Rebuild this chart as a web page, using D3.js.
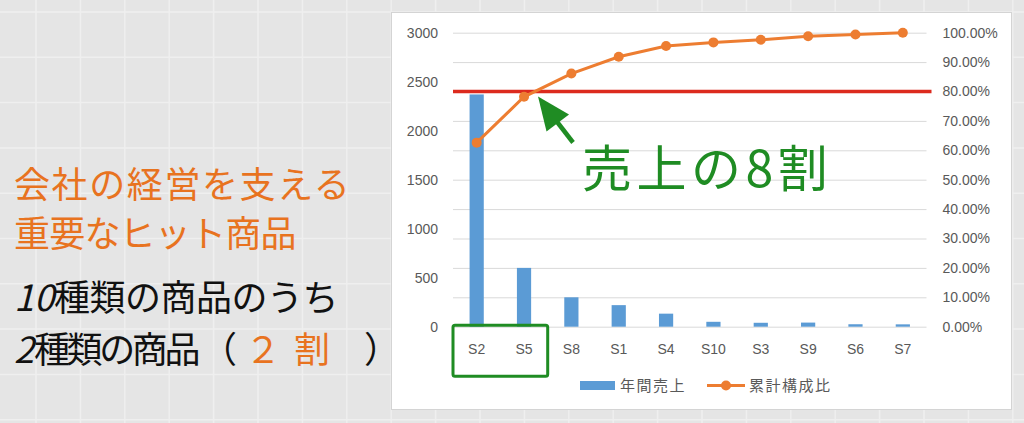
<!DOCTYPE html>
<html>
<head>
<meta charset="utf-8">
<script src="https://cdn.jsdelivr.net/npm/d3@7"></script>
<style>
  html, body { margin: 0; padding: 0; background: #e5e5e5; }
  svg { display: block; }
</style>
</head>
<body>
<div id="chart"></div>
<script>
/* Pareto chart: annual sales + cumulative ratio */

const products = ["S2", "S5", "S8", "S1", "S4", "S10", "S3", "S9", "S6", "S7"];
const sales = [2370, 600, 300, 220, 133, 50, 40, 42, 25, 24];           // 年間売上
const cumulative = [0.626, 0.782, 0.861, 0.918, 0.955, 0.967, 0.976, 0.988, 0.994, 1.0]; // 累計構成比
const leftTicks = [0, 500, 1000, 1500, 2000, 2500, 3000];
const rightTicks = [0, 0.1, 0.2, 0.3, 0.4, 0.5, 0.6, 0.7, 0.8, 0.9, 1.0];
const threshold = 0.8;

const width = 1024,
    height = 423,
    margin = ({ top: 32.7, right: 97.5, bottom: 96.3, left: 453 });

const numFont = "'Liberation Sans', Arial, sans-serif",
    jpFont = "'Noto Sans CJK JP', 'Noto Sans', sans-serif";

const svg = d3.select("#chart")
    .append("svg")
    .attr("width", width)
    .attr("height", height);

// spreadsheet background grid
svg.append("rect").attr("width", width).attr("height", height).attr("fill", "#e5e5e5");
svg.append("g")
    .selectAll("line")
    .data(d3.range(-8, 24).map(k => 36 + 44.4 * k).filter(v => v > 0 && v < width))
    .join("line")
    .attr("x1", d => d).attr("x2", d => d)
    .attr("y1", 0).attr("y2", height)
    .attr("stroke", "#efefef").attr("stroke-width", 1.5);
svg.append("g")
    .selectAll("line")
    .data(d3.range(0, 10).map(k => 12 + 45.3 * k))
    .join("line")
    .attr("x1", 0).attr("x2", width)
    .attr("y1", d => d).attr("y2", d => d)
    .attr("stroke", "#efefef").attr("stroke-width", 1.5);

// chart box
svg.append("rect")
    .attr("x", 391.5).attr("y", 12.5)
    .attr("width", 620).attr("height", 397)
    .attr("fill", "#ffffff")
    .attr("stroke", "#d4d4d4");

let x = d3.scaleBand()
    .domain(products)
    .range([margin.left, width - margin.right])
    .paddingInner(0.7)
    .paddingOuter(0.35);

let y = d3.scaleLinear()
    .domain([0, 3000])
    .range([height - margin.bottom, margin.top]);

let yR = d3.scaleLinear()
    .domain([0, 1])
    .range([height - margin.bottom, margin.top]);

// gridlines follow the secondary axis
svg.append("g")
    .attr("transform", `translate(${margin.left},0)`)
    .call(d3.axisLeft(yR).tickValues(rightTicks).tickSize(-(width - margin.right - margin.left)).tickFormat(""))
    .call(g => g.select(".domain").remove())
    .call(g => g.selectAll("line").attr("stroke", "#d9d9d9"));

// left axis labels
svg.append("g")
    .attr("transform", `translate(${margin.left - 15},0)`)
    .call(d3.axisLeft(y).tickValues(leftTicks).tickSize(0).tickPadding(0).tickFormat(d3.format("d")))
    .call(g => g.select(".domain").remove())
    .call(g => g.selectAll("text")
        .attr("fill", "#595959")
        .attr("font-family", numFont)
        .attr("font-size", 14));

// right axis labels
svg.append("g")
    .attr("transform", `translate(${width - margin.right + 16},0)`)
    .call(d3.axisRight(yR).tickValues(rightTicks).tickSize(0).tickPadding(0).tickFormat(d3.format(".2%")))
    .call(g => g.select(".domain").remove())
    .call(g => g.selectAll("text")
        .attr("fill", "#595959")
        .attr("font-family", numFont)
        .attr("font-size", 14));

// bottom category labels
svg.append("g")
    .attr("transform", `translate(0,${height - margin.bottom})`)
    .call(d3.axisBottom(x).tickSize(0).tickPadding(17))
    .call(g => g.select(".domain").remove())
    .call(g => g.selectAll("text")
        .attr("fill", "#595959")
        .attr("font-family", numFont)
        .attr("font-size", 14));

// bars
svg.append("g")
    .selectAll("rect")
    .data(sales)
    .join("rect")
    .attr("x", (d, i) => x(products[i]))
    .attr("y", d => y(d))
    .attr("width", x.bandwidth())
    .attr("height", d => y(0) - y(d))
    .attr("fill", "#5b9bd5");

// 80% line
svg.append("line")
    .attr("x1", margin.left)
    .attr("x2", width - margin.right + 5)
    .attr("y1", yR(threshold))
    .attr("y2", yR(threshold))
    .attr("stroke", "#dc2a1e")
    .attr("stroke-width", 3.5);

// cumulative line
let line = d3.line()
    .x((d, i) => x(products[i]) + x.bandwidth() / 2)
    .y(d => yR(d));

svg.append("path")
    .datum(cumulative)
    .attr("d", line)
    .attr("fill", "none")
    .attr("stroke", "#ed7d31")
    .attr("stroke-width", 3);

svg.append("g")
    .selectAll("circle")
    .data(cumulative)
    .join("circle")
    .attr("cx", (d, i) => x(products[i]) + x.bandwidth() / 2)
    .attr("cy", d => yR(d))
    .attr("r", 5)
    .attr("fill", "#ed7d31");

// legend
const legY = 385.5;
svg.append("rect")
    .attr("x", 580).attr("y", legY - 4.5)
    .attr("width", 35).attr("height", 9)
    .attr("fill", "#5b9bd5");
svg.append("text")
    .attr("x", 620).attr("y", legY + 5.5)
    .attr("font-family", jpFont).attr("font-size", 15)
    .attr("letter-spacing", 1.5)
    .attr("fill", "#595959")
    .text("年間売上");
svg.append("line")
    .attr("x1", 707).attr("x2", 745)
    .attr("y1", legY).attr("y2", legY)
    .attr("stroke", "#ed7d31").attr("stroke-width", 3);
svg.append("circle")
    .attr("cx", 726).attr("cy", legY).attr("r", 5)
    .attr("fill", "#ed7d31");
svg.append("text")
    .attr("x", 749).attr("y", legY + 5.5)
    .attr("font-family", jpFont).attr("font-size", 15)
    .attr("letter-spacing", 1.5)
    .attr("fill", "#595959")
    .text("累計構成比");

// green box round the top two products
const green = "#1f8c23";
svg.append("rect")
    .attr("x", x("S2") - x.step() * 0.35)
    .attr("y", y(0) - 1.5)
    .attr("width", x.step() * 2)
    .attr("height", 51)
    .attr("rx", 2)
    .attr("fill", "none")
    .attr("stroke", green)
    .attr("stroke-width", 3);

// arrow to the 80% crossing
const tipX = x("S5") + x.bandwidth() / 2 + 14,
    tipY = yR(threshold) + 5;
svg.append("line")
    .attr("x1", tipX + 35).attr("y1", tipY + 46)
    .attr("x2", tipX + 18).attr("y2", tipY + 24)
    .attr("stroke", green).attr("stroke-width", 4.5);
svg.append("path")
    .attr("d", `M${tipX},${tipY} L${tipX + 8.5},${tipY + 35} L${tipX + 31},${tipY + 18} Z`)
    .attr("fill", green);

svg.append("text")
    .attr("x", 582).attr("y", 187)
    .attr("font-family", jpFont).attr("font-size", 50)
    .attr("letter-spacing", 4.5)
    .attr("fill", green)
    .text("売上の8割");

// left side captions
const orange = "#e8731f";
const captions = svg.append("g").attr("font-family", jpFont).attr("font-size", 36);
captions.append("text").attr("x", 14).attr("y", 198).attr("fill", orange)
    .attr("letter-spacing", 1.6)
    .text("会社の経営を支える");
captions.append("text").attr("x", 14).attr("y", 247).attr("fill", orange)
    .attr("letter-spacing", -0.8)
    .text("重要なヒット商品");

let t3 = captions.append("text").attr("x", 14).attr("y", 311).attr("fill", "#111");
t3.append("tspan").attr("font-style", "italic").text("10");
t3.append("tspan").attr("letter-spacing", -0.5).text("種類の商品のうち");

let t4 = captions.append("text").attr("x", 14).attr("y", 363).attr("fill", "#111");
t4.append("tspan").attr("font-style", "italic").text("2");
t4.append("tspan").attr("letter-spacing", -3.4).text("種類の商品");
t4.append("tspan").attr("x", 201).text("（");
t4.append("tspan").attr("x", 245).attr("fill", orange).text("２");
t4.append("tspan").attr("x", 294).attr("fill", orange).text("割");
t4.append("tspan").attr("x", 364).text("）");
</script>
</body>
</html>
